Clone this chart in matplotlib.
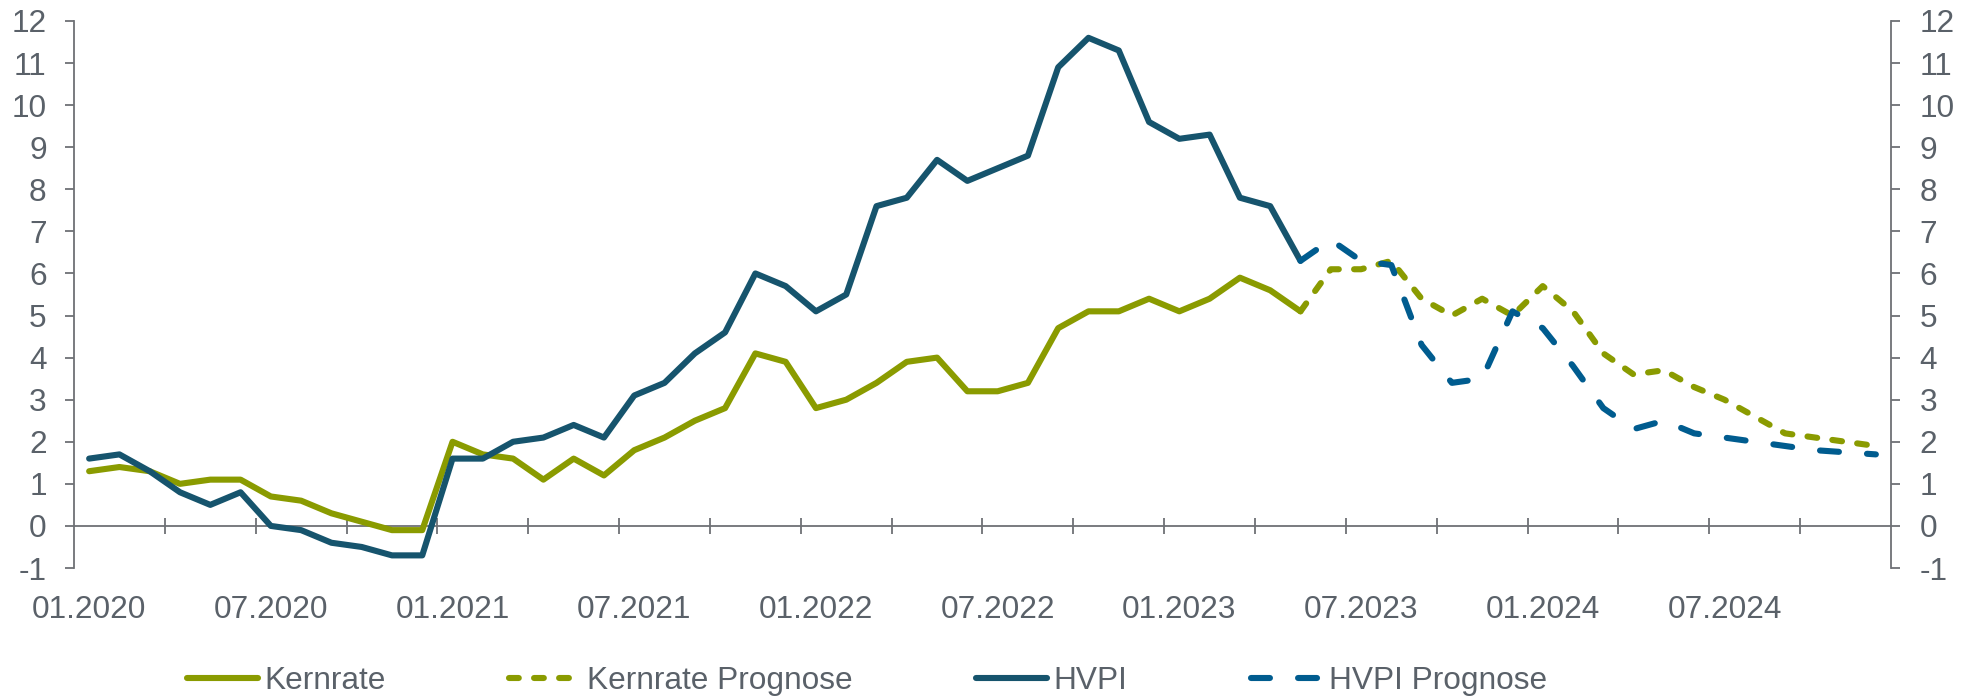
import numpy as np
import matplotlib.pyplot as plt

# monthly values 01.2020 - 12.2024
kern_ist = [1.3, 1.4, 1.3, 1.0, 1.1, 1.1, 0.7, 0.6, 0.3, 0.1,
            -0.1, -0.1, 2.0, 1.7, 1.6, 1.1, 1.6, 1.2, 1.8, 2.1,
            2.5, 2.8, 4.1, 3.9, 2.8, 3.0, 3.4, 3.9, 4.0, 3.2,
            3.2, 3.4, 4.7, 5.1, 5.1, 5.4, 5.1, 5.4, 5.9, 5.6,
            5.1]
hvpi_ist = [1.6, 1.7, 1.3, 0.8, 0.5, 0.8, 0.0, -0.1, -0.4, -0.5,
            -0.7, -0.7, 1.6, 1.6, 2.0, 2.1, 2.4, 2.1, 3.1, 3.4,
            4.1, 4.6, 6.0, 5.7, 5.1, 5.5, 7.6, 7.8, 8.7, 8.2,
            8.5, 8.8, 10.9, 11.6, 11.3, 9.6, 9.2, 9.3, 7.8, 7.6,
            6.3]
# forecast starts at the last actual month (05.2023)
kern_prog = [5.1, 6.1, 6.1, 6.3, 5.4, 5.0, 5.4, 5.0, 5.7, 5.1,
             4.1, 3.6, 3.7, 3.3, 3.0, 2.6, 2.2, 2.1, 2.0, 1.9]
hvpi_prog = [6.3, 6.8, 6.3, 6.2, 4.3, 3.4, 3.5, 5.1, 4.7, 3.8,
             2.8, 2.3, 2.5, 2.2, 2.1, 2.0, 1.9, 1.8, 1.75, 1.7]

monate = [f"{m:02d}.{j}" for j in range(2020, 2025) for m in range(1, 13)]
x_labels = monate[::6]
legend_labels = ["Kernrate", "Kernrate Prognose", "HVPI", "HVPI Prognose"]

green = "#8A9B00"
teal = "#16546D"
blue = "#005C8F"
grey = "#6E7175"
txt = "#5A6169"
fs = 22.8

plt.rcParams['font.family'] = ['Liberation Sans', 'DejaVu Sans']
plt.rcParams['axes.unicode_minus'] = False

fig = plt.figure(figsize=(19.7, 6.97), dpi=100)
ax = fig.add_axes([74/1970, 1-568/697, (1891-74)/1970, (568-21)/697])

x_ist = np.arange(len(kern_ist))
x_prog = np.arange(len(kern_ist)-1, len(kern_ist)-1+len(kern_prog))

lw = 4.4
l1, = ax.plot(x_ist, kern_ist, color=green, lw=lw,
              solid_capstyle='round', solid_joinstyle='round')
l2, = ax.plot(x_prog, kern_prog, color=green, lw=lw, linestyle=(0, (1.6, 2.5)),
              dash_capstyle='round', dash_joinstyle='round')
l3, = ax.plot(x_ist, hvpi_ist, color=teal, lw=lw,
              solid_capstyle='round', solid_joinstyle='round')
l4, = ax.plot(x_prog, hvpi_prog, color=blue, lw=lw, linestyle=(0, (3.1, 4.6)),
              dash_capstyle='round', dash_joinstyle='round')

ax.set_xlim(-0.5, len(monate)-0.5)
ax.set_ylim(-1, 12)
ax.set_yticks(range(-1, 13))

# x labels at bottom, no tick marks
ax.set_xticks(np.arange(0, len(monate), 6), x_labels)
ax.tick_params(axis='x', length=0, pad=19.5, labelsize=fs, labelcolor=txt)
ax.tick_params(axis='y', direction='out', length=6.5, width=1.3, color=grey,
               pad=13.2, labelsize=fs, labelcolor=txt)
for s in ['top', 'bottom', 'right']:
    ax.spines[s].set_visible(False)
ax.spines['left'].set_color(grey)
ax.spines['left'].set_linewidth(1.3)

# category axis crossing at 0 with tick marks between categories
sec = ax.secondary_xaxis(0, transform=ax.transData)
sec.set_xticks(np.arange(2.5, len(monate)-1, 3))
sec.tick_params(axis='x', direction='inout', length=11, width=1.3, color=grey,
                labelbottom=False)
sec.spines['bottom'].set_color(grey)
sec.spines['bottom'].set_linewidth(1.3)

# right axis
ax2 = ax.twinx()
ax2.set_ylim(ax.get_ylim())
ax2.set_yticks(range(-1, 13))
ax2.tick_params(axis='y', direction='out', length=6.5, width=1.3, color=grey,
                pad=14, labelsize=fs, labelcolor=txt)
for s in ['top', 'bottom', 'left']:
    ax2.spines[s].set_visible(False)
ax2.spines['right'].set_color(grey)
ax2.spines['right'].set_linewidth(1.3)

fig.legend([l1, l2, l3, l4], legend_labels, ncol=4, loc='center left',
           bbox_to_anchor=(187/1970, 1-681/697), frameon=False, fontsize=fs,
           labelcolor=txt, handlelength=2.25, handletextpad=0.2,
           columnspacing=3.9, borderpad=0, borderaxespad=0)

fig.savefig("out.png", dpi=100)
